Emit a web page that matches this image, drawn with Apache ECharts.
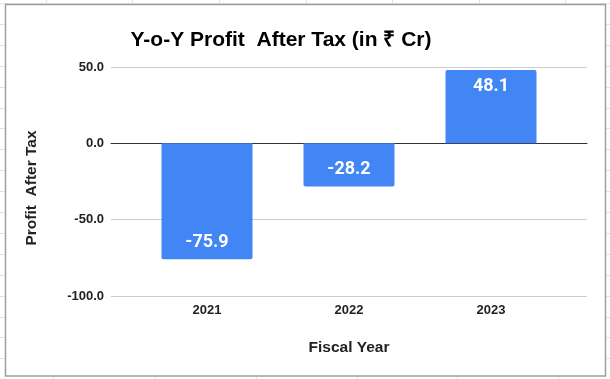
<!DOCTYPE html>
<html>
<head>
<meta charset="utf-8">
<script src="https://cdn.jsdelivr.net/npm/echarts@6/dist/echarts.min.js"></script>
<style>
html,body{margin:0;padding:0;background:#fff;}
#c{width:610px;height:379px;}
</style>
</head>
<body>
<div id="c"></div>
<script>
var categories = ['2021', '2022', '2023'];
var profitAfterTax = [-75.9, -28.2, 48.1];
var yTicks = [-100, -50, 0, 50];

var FONT = '"Liberation Sans", Arial, sans-serif';
var chart = echarts.init(document.getElementById('c'), null, {renderer: 'canvas'});

// background spreadsheet cell lines (decoration)
var bg = [];
for (var k = 0; k < 19; k++) {
  var yy = Math.round(3 + 20.9 * k) + 0.5;
  bg.push({type: 'line', z: -20, shape: {x1: 0, y1: yy, x2: 610, y2: yy}, style: {stroke: '#e2e2e2', lineWidth: 1}});
}
[46, 132, 219, 306, 392, 479, 565].forEach(function (x) {
  bg.push({type: 'line', z: -20, shape: {x1: x + 0.5, y1: 0, x2: x + 0.5, y2: 5}, style: {stroke: '#e2e2e2', lineWidth: 1}});
});
[53, 155, 256, 357, 457, 558].forEach(function (x) {
  bg.push({type: 'line', z: -20, shape: {x1: x + 0.5, y1: 376, x2: x + 0.5, y2: 379}, style: {stroke: '#e2e2e2', lineWidth: 1}});
});
bg.push({type: 'rect', z: -10, shape: {x: 5.5, y: 4.5, width: 600, height: 371.5}, style: {fill: '#fff', stroke: '#9e9e9e', lineWidth: 1.5}});
bg.push({type: 'text', z: 10, x: 32, y: 188, rotation: Math.PI / 2,
  style: {text: 'Profit  After Tax', font: 'bold 15.5px ' + FONT, fill: '#222', align: 'center', verticalAlign: 'middle'}});

var barData = profitAfterTax.map(function (v) {
  return {
    value: v,
    itemStyle: {borderRadius: v >= 0 ? [2, 2, 0, 0] : [0, 0, 2, 2]},
    label: {position: v >= 0 ? 'insideTop' : 'insideBottom'}
  };
});

chart.setOption({
  animation: false,
  backgroundColor: 'transparent',
  title: {
    text: 'Y-o-Y Profit  After Tax (in ₹ Cr)',
    left: 276, top: 25, textAlign: 'center',
    textStyle: {fontFamily: FONT, fontWeight: 'bold', fontSize: 21, color: '#000'}
  },
  graphic: bg,
  grid: [
    {left: 111, right: 23, top: 67, bottom: 83},
    {left: 136, right: 48, top: 67, bottom: 83}
  ],
  xAxis: [
    {gridIndex: 0, type: 'value', min: 0, max: 1, show: true,
      axisLine: {show: true, onZero: true, lineStyle: {color: '#333', width: 1}},
      axisTick: {show: false}, axisLabel: {show: false}, splitLine: {show: false}},
    {gridIndex: 1, type: 'category', data: categories,
      axisLine: {show: false}, axisTick: {show: false},
      axisLabel: {margin: 8, fontFamily: FONT, fontWeight: 'bold', fontSize: 13, color: '#222'},
      name: 'Fiscal Year', nameLocation: 'middle', nameGap: 44,
      nameTextStyle: {fontFamily: FONT, fontWeight: 'bold', fontSize: 15.5, color: '#222'}}
  ],
  yAxis: [
    {gridIndex: 0, type: 'value', min: yTicks[0], max: yTicks[yTicks.length - 1], interval: 50,
      axisLine: {show: false}, axisTick: {show: false},
      axisLabel: {margin: 7, fontFamily: FONT, fontWeight: 'bold', fontSize: 13, color: '#222',
        formatter: function (v) { return v.toFixed(1); }},
      splitLine: {lineStyle: {color: '#cccccc', width: 1}}},
    {gridIndex: 1, type: 'value', min: yTicks[0], max: yTicks[yTicks.length - 1], interval: 50, show: false}
  ],
  series: [{
    type: 'bar', xAxisIndex: 1, yAxisIndex: 1, barWidth: 91,
    itemStyle: {color: '#4285f4'},
    label: {show: true, distance: 7.5, color: '#fff', fontFamily: 'Roboto, ' + FONT, fontWeight: 'bold', fontSize: 18,
      formatter: function (p) { return p.value.toFixed(1); }},
    data: barData
  }]
});
</script>
</body>
</html>
